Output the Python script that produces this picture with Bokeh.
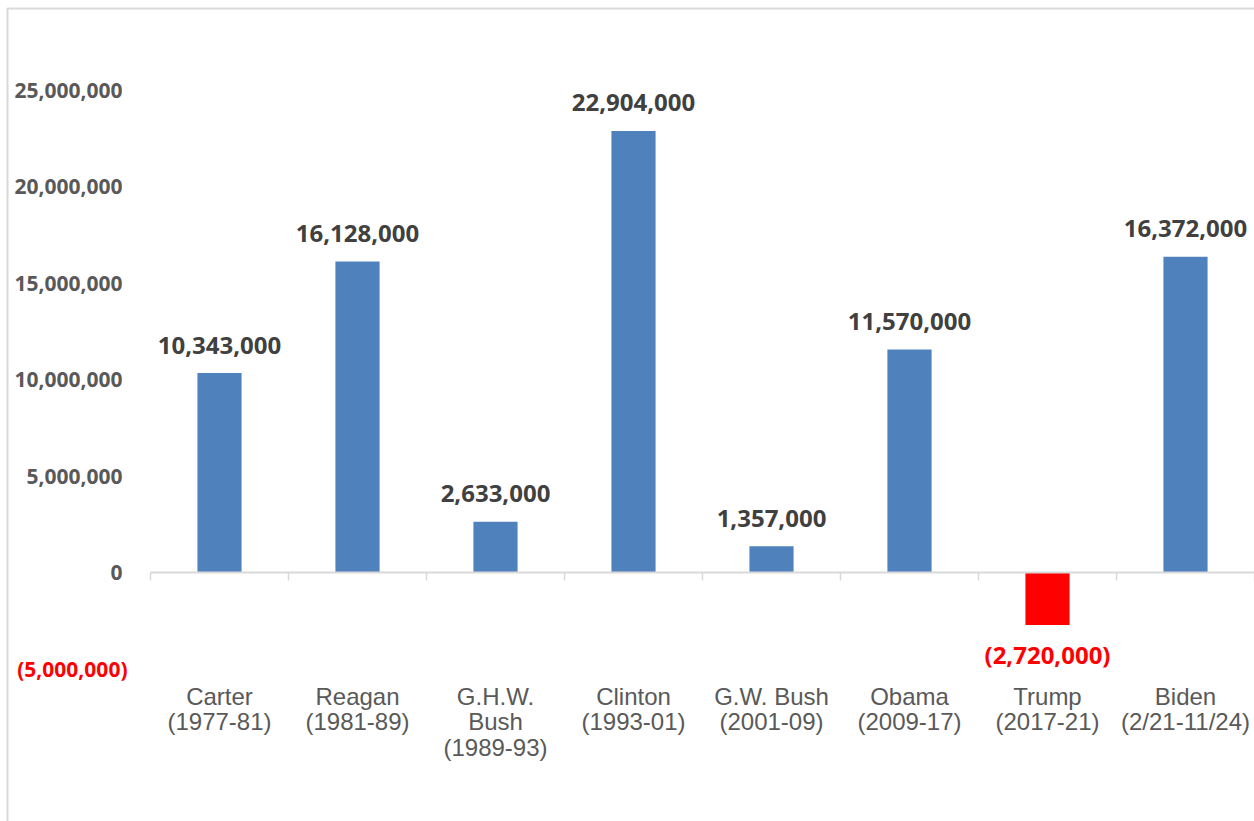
from bokeh.plotting import figure
from bokeh.models import (ColumnDataSource, FixedTicker, NumeralTickFormatter,
                          Label, BoxAnnotation, Range1d)
from bokeh.core.properties import value
from bokeh.embed import file_html
from bokeh.resources import INLINE

# ---- data ----
categories = ["Carter\n(1977-81)", "Reagan\n(1981-89)", "G.H.W.\nBush\n(1989-93)",
              "Clinton\n(1993-01)", "G.W. Bush\n(2001-09)", "Obama\n(2009-17)",
              "Trump\n(2017-21)", "Biden\n(2/21-11/24)"]
jobs = [10343000, 16128000, 2633000, 22904000, 1357000, 11570000, -2720000, 16372000]
y_ticks = [-5000000, 0, 5000000, 10000000, 15000000, 20000000, 25000000]

BLUE = "#4F81BD"
RED = "#FF0000"

W, H = 1254, 821
# pixel anchors of the layout
plot_left, cat_w = 150, 138
zero_px, top_tick_px = 572, 90
axis_bottom_px = 678
px_per = (zero_px - top_tick_px) / y_ticks[-1]

def x_of(px):
    return (px - plot_left) / cat_w - 0.5

def y_of(py):
    return (zero_px - py) / px_per

n = len(categories)
xs = list(range(n))

def fmt(v):
    s = f"{abs(v):,}"
    return f"({s})" if v < 0 else s

src = ColumnDataSource(dict(
    x=xs, top=jobs,
    color=[RED if v < 0 else BLUE for v in jobs],
    label=[fmt(v) for v in jobs],
    lcolor=[RED if v < 0 else "#404040" for v in jobs],
    yoff=[30 if v < 0 else -28 for v in jobs],
))

p = figure(width=W, height=H, output_backend="svg", toolbar_location=None,
           x_range=Range1d(x_of(0), x_of(W)), y_range=Range1d(y_of(H), y_of(0)),
           min_border=0, min_border_left=0, min_border_right=0,
           min_border_top=0, min_border_bottom=0,
           background_fill_color="white", border_fill_color="white")
p.outline_line_color = None
p.grid.visible = False

p.vbar(x="x", top="top", bottom=0, width=0.32, source=src,
       fill_color="color", line_color=None)

p.text(x="x", y="top", text="label", source=src, text_color="lcolor",
       text_font=value("Open Sans"), text_font_style="bold", text_font_size="24px",
       text_align="center", text_baseline="alphabetic", y_offset="yoff")

# zero line and category separators
tick_len = 8 / px_per
bx = [k - 0.5 for k in range(n + 1)]
p.segment(x0=[-0.5], x1=[n - 0.5 + 1], y0=[0], y1=[0], line_color="#d9d9d9", line_width=2)
p.segment(x0=bx, x1=bx, y0=[0] * len(bx), y1=[-tick_len] * len(bx),
          line_color="#d9d9d9", line_width=1.5)

# y axis (drawn at the left edge of the category area)
yax = p.yaxis[0]
yax.fixed_location = -0.5
yax.ticker = FixedTicker(ticks=[t for t in y_ticks if t >= 0])
yax.formatter = NumeralTickFormatter(format="0,0")
yax.axis_line_color = None
yax.major_tick_line_color = None
yax.minor_tick_line_color = None
yax.major_tick_out = 0
yax.major_tick_in = 0
yax.major_label_standoff = 28
yax.major_label_text_font = "Open Sans"
yax.major_label_text_font_style = "bold"
yax.major_label_text_font_size = "21px"
yax.major_label_text_color = "#595959"

for t in y_ticks:
    if t < 0:
        p.add_layout(Label(x=-0.5, y=t, x_offset=-23, text=fmt(t), text_color=RED,
                           text_font="Open Sans", text_font_style="bold",
                           text_font_size="21px", text_align="right",
                           text_baseline="middle"))

# x axis
xax = p.xaxis[0]
xax.fixed_location = y_of(axis_bottom_px)
xax.ticker = FixedTicker(ticks=xs)
xax.major_label_overrides = {i: c for i, c in zip(xs, categories)}
xax.axis_line_color = None
xax.major_tick_line_color = None
xax.minor_tick_line_color = None
xax.major_tick_out = 0
xax.major_tick_in = 0
xax.major_label_standoff = 4
xax.major_label_text_font = "Liberation Sans"
xax.major_label_text_font_size = "24px"
xax.major_label_text_line_height = 0.96
xax.major_label_text_color = "#595959"

# light chart border (top and left)
p.add_layout(BoxAnnotation(left=7, top=8, right=W + 20, bottom=H + 20,
                           left_units="canvas", top_units="canvas",
                           right_units="canvas", bottom_units="canvas",
                           fill_color=None, fill_alpha=0, line_color="#d9d9d9",
                           line_alpha=1.0, line_width=2))

open("out.html", "w").write(file_html(p, INLINE))
